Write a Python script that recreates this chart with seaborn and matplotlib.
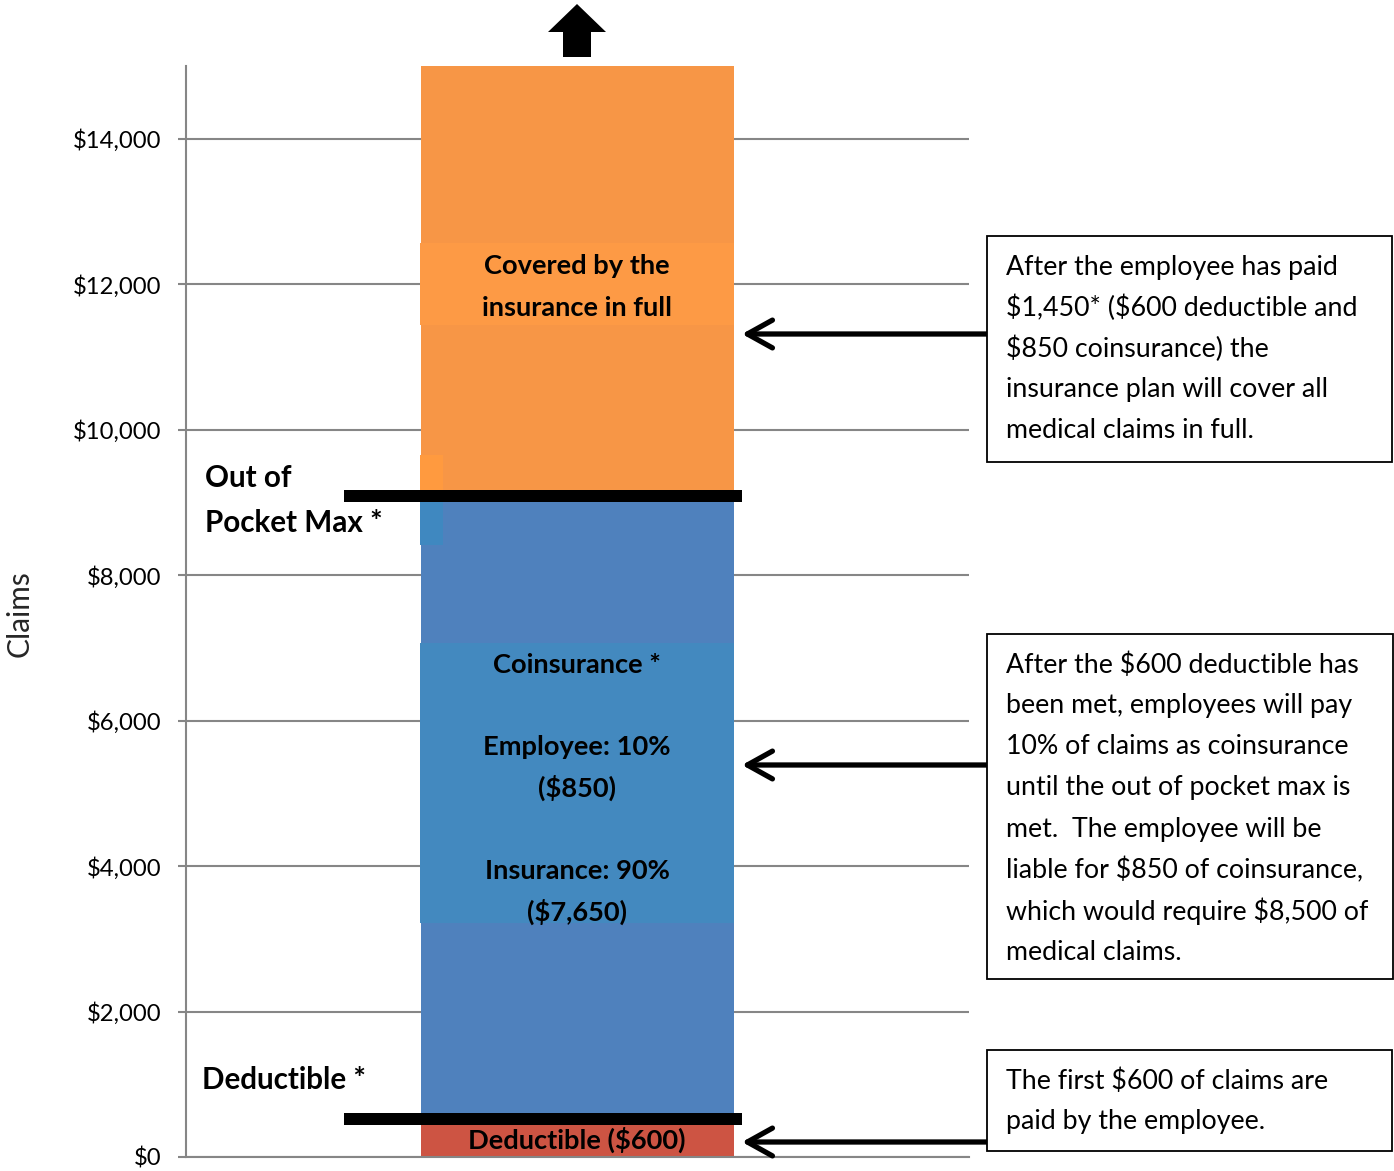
import numpy as np
import pandas as pd
import matplotlib
matplotlib.use("Agg")
import matplotlib.pyplot as plt
from matplotlib.patches import Rectangle, Polygon
import seaborn as sns

# ---- data ----
segments = ["Deductible", "Coinsurance", "Covered in full"]
segment_values = [600, 8500, 5900]
segment_colors = ["#CD5443", "#4F81BD", "#F79646"]
category = ["Claims"]
ytick_values = [0, 2000, 4000, 6000, 8000, 10000, 12000, 14000]
ytick_labels = ["$0", "$2,000", "$4,000", "$6,000", "$8,000", "$10,000", "$12,000", "$14,000"]
ymax = 15000

box1_lines = ["After the employee has paid",
              "$1,450* ($600 deductible and",
              "$850 coinsurance) the",
              "insurance plan will cover all",
              "medical claims in full."]
box2_lines = ["After the $600 deductible has",
              "been met, employees will pay",
              "10% of claims as coinsurance",
              "until the out of pocket max is",
              "met.  The employee will be",
              "liable for $850 of coinsurance,",
              "which would require $8,500 of",
              "medical claims."]
box3_lines = ["The first $600 of claims are",
              "paid by the employee."]

sns.set_style("white")
plt.rcParams["font.family"] = ["Lato", "DejaVu Sans"]
plt.rcParams["text.parse_math"] = False

W, H = 1394, 1171
fig = plt.figure(figsize=(W / 100, H / 100), dpi=100)


def fx(px):
    return px / W


def fy(py):
    return 1 - py / H


ax = fig.add_axes([fx(186), fy(1157), (969 - 186) / W, (1157 - 66) / H])

# stacked bar: draw cumulative totals from top layer down
tops = np.cumsum(segment_values)
for seg, top, col in reversed(list(zip(segments, tops, segment_colors))):
    df = pd.DataFrame({"cat": category, "value": [top]})
    sns.barplot(data=df, x="cat", y="value", color=col, saturation=1,
                width=0.401, ax=ax, edgecolor="none", linewidth=0, zorder=2)

ax.set_xlim(-0.5, 0.5)
ax.set_ylim(0, ymax)
ax.set_yticks(ytick_values)
ax.set_yticklabels(ytick_labels)
ax.set_xticks([])
ax.set_xlabel("")
ax.set_ylabel("")
ax.yaxis.grid(True, color="#868686", lw=1.5)
ax.set_axisbelow(True)
for s in ["top", "right"]:
    ax.spines[s].set_visible(False)
for s in ["left", "bottom"]:
    ax.spines[s].set_color("#868686")
    ax.spines[s].set_linewidth(1.5)
ax.tick_params(axis="y", length=6, width=1.5, color="#868686",
               labelsize=17.2, labelcolor="black", pad=12, left=True)

# label background boxes inside the bar
for (y0, y1, col) in [(243, 325, "#FD9A45"), (643, 923, "#4389BF")]:
    fig.add_artist(Rectangle((fx(420), fy(y1)), (734 - 420) / W, (y1 - y0) / H,
                             transform=fig.transFigure, color=col, lw=0, zorder=3))
# small strips by the out-of-pocket label
fig.add_artist(Rectangle((fx(420), fy(495)), 23 / W, 40 / H, transform=fig.transFigure,
                         color="#FF9A3F", lw=0, zorder=3))
fig.add_artist(Rectangle((fx(420), fy(545)), 23 / W, 50 / H, transform=fig.transFigure,
                         color="#3F88C0", lw=0, zorder=3))

# black threshold lines
for yc in [496, 1119]:
    fig.add_artist(Rectangle((fx(344), fy(yc + 6)), (742 - 344) / W, 12 / H,
                             transform=fig.transFigure, color="black", lw=0, zorder=4))

dy = 2  # small vertical nudge for text centring

# bar texts
bold = dict(fontsize=19.6, fontweight="bold", ha="center", va="center", color="black", zorder=5)
for txt, py in [("Covered by the", 264), ("insurance in full", 306),
                ("Coinsurance *", 663), ("Employee: 10%", 745), ("($850)", 786),
                ("Insurance: 90%", 869), ("($7,650)", 910), ("Deductible ($600)", 1138)]:
    fig.text(fx(577), fy(py + dy), txt, **bold)

side = dict(fontsize=21.3, fontweight="bold", ha="left", va="center", color="black", zorder=5)
fig.text(fx(205), fy(476 + dy), "Out of", **side)
fig.text(fx(205), fy(521 + dy), "Pocket Max *", **side)
fig.text(fx(202), fy(1078 + dy), "Deductible *", **side)

fig.text(fx(20), fy(614), "Claims", rotation=90, ha="center", va="center", fontsize=21.5)

# annotation boxes
for (x0, y0, x1, y1, lines, first) in [(987, 236, 1392, 462, box1_lines, 265),
                                        (987, 634, 1393, 979, box2_lines, 663),
                                        (987, 1050, 1392, 1151, box3_lines, 1079)]:
    fig.add_artist(Rectangle((fx(x0), fy(y1)), (x1 - x0) / W, (y1 - y0) / H,
                             transform=fig.transFigure, facecolor="white",
                             edgecolor="black", lw=1.3, zorder=5))
    for i, line in enumerate(lines):
        fig.text(fx(1006), fy(first + 41 * i + dy), line, ha="left", va="center",
                 fontsize=19.3, color="black", zorder=6)

# arrows from boxes to bar
for py in [334, 765, 1142]:
    ax.annotate("", xy=(fx(742), fy(py)), xytext=(fx(987), fy(py)),
                xycoords="figure fraction", textcoords="figure fraction",
                arrowprops=dict(arrowstyle="->,head_length=0.9,head_width=0.5",
                                lw=3.8, color="black", shrinkA=0, shrinkB=0,
                                mutation_scale=20), annotation_clip=False)

# upward block arrow above the bar
pts = [(563, 57), (591, 57), (591, 32), (606, 32), (577, 4), (548, 32), (563, 32)]
fig.add_artist(Polygon([(fx(a), fy(b)) for a, b in pts], closed=True,
                       transform=fig.transFigure, color="black", lw=0))

fig.savefig("out.png", dpi=100)
